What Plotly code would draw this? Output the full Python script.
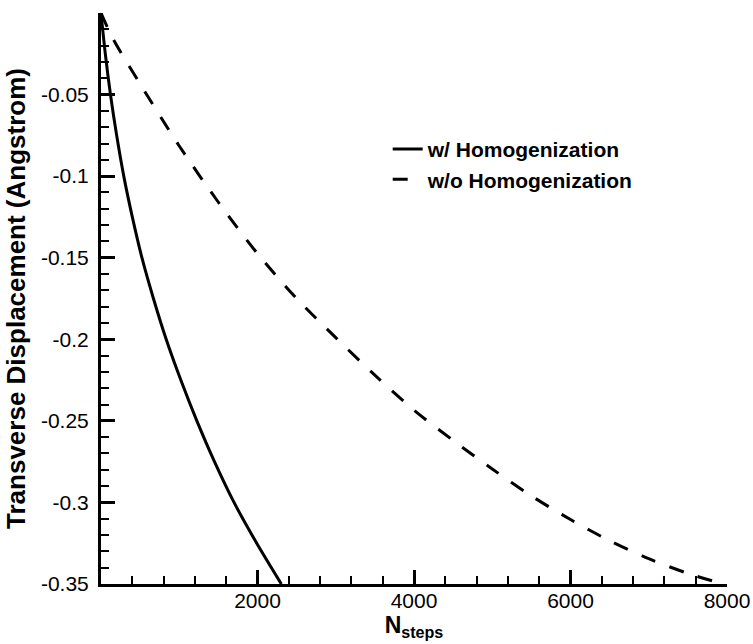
import plotly.graph_objects as go

# Solid curve: with homogenization
steps_with = [0, 55, 121, 200, 291, 400, 523, 670, 833, 1020, 1225, 1450, 1700, 1990, 2305]
disp_with = [0, -0.025, -0.05, -0.075, -0.1, -0.125, -0.15, -0.175, -0.2, -0.225, -0.25, -0.275, -0.3, -0.325, -0.35]

# Dashed curve: without homogenization
steps_without = [0, 150, 500, 1000, 1500, 2000, 2500, 3000, 3500, 4000, 4500, 5000, 5500, 6000, 6500, 7000, 7500, 7950]
disp_without = [0, -0.0155, -0.0435, -0.0815, -0.116, -0.1475, -0.175, -0.199, -0.222, -0.2435,
                -0.262, -0.2795, -0.296, -0.3105, -0.3235, -0.3345, -0.3435, -0.350]

x_tickvals = [2000, 4000, 6000, 8000]
x_ticktext = ["2000", "4000", "6000", "8000"]
y_tickvals = [-0.05, -0.1, -0.15, -0.2, -0.25, -0.3, -0.35]
y_ticktext = ["-0.05", "-0.1", "-0.15", "-0.2", "-0.25", "-0.3", "-0.35"]

FONT = "Liberation Sans, Arial, Helvetica, sans-serif"

fig = go.Figure()
fig.add_trace(go.Scatter(
    x=steps_with, y=disp_with, mode="lines", name="w/ Homogenization",
    line=dict(color="black", width=3, shape="spline", smoothing=0.8),
))
fig.add_trace(go.Scatter(
    x=steps_without, y=disp_without, mode="lines", name="w/o Homogenization",
    line=dict(color="black", width=3, dash="15px,15px", shape="spline", smoothing=0.8),
))

fig.update_layout(
    width=753, height=644,
    margin=dict(l=101, r=26, t=13, b=60),
    paper_bgcolor="white", plot_bgcolor="white",
    font=dict(family=FONT, color="black", size=21),
    legend=dict(
        x=0.458, y=0.797, xanchor="left", yanchor="top",
        bgcolor="rgba(0,0,0,0)", borderwidth=0,
        font=dict(family=FONT, size=21, color="black", weight="bold"),
        tracegroupgap=0, itemwidth=30,
    ),
    xaxis=dict(
        range=[0, 8000], automargin=False,
        showline=True, linecolor="black", linewidth=3,
        showgrid=False, zeroline=False,
        tickmode="array", tickvals=x_tickvals, ticktext=x_ticktext,
        ticks="inside", ticklen=14, tickwidth=3, tickcolor="black",
        ticklabelstandoff=-4,
        tickfont=dict(family=FONT, size=21, color="black"),
        minor=dict(dtick=400, tick0=0, ticks="inside", ticklen=8, tickwidth=1.5, tickcolor="black", showgrid=False),
        title=dict(text="<b>N<sub>steps</sub></b>", font=dict(family=FONT, size=23, color="black"), standoff=4),
    ),
    yaxis=dict(
        range=[-0.35, 0], automargin=False,
        showline=True, linecolor="black", linewidth=3,
        showgrid=False, zeroline=False,
        tickmode="array", tickvals=y_tickvals, ticktext=y_ticktext,
        ticks="inside", ticklen=14, tickwidth=3, tickcolor="black",
        ticklabelstandoff=5,
        tickfont=dict(family=FONT, size=21, color="black"),
        minor=dict(dtick=0.01, tick0=0, ticks="inside", ticklen=8, tickwidth=1.5, tickcolor="black", showgrid=False),
        title=dict(text="<b>Transverse Displacement (Angstrom)</b>", font=dict(family=FONT, size=26, color="black"), standoff=8),
    ),
)

fig.write_html("out.html")
